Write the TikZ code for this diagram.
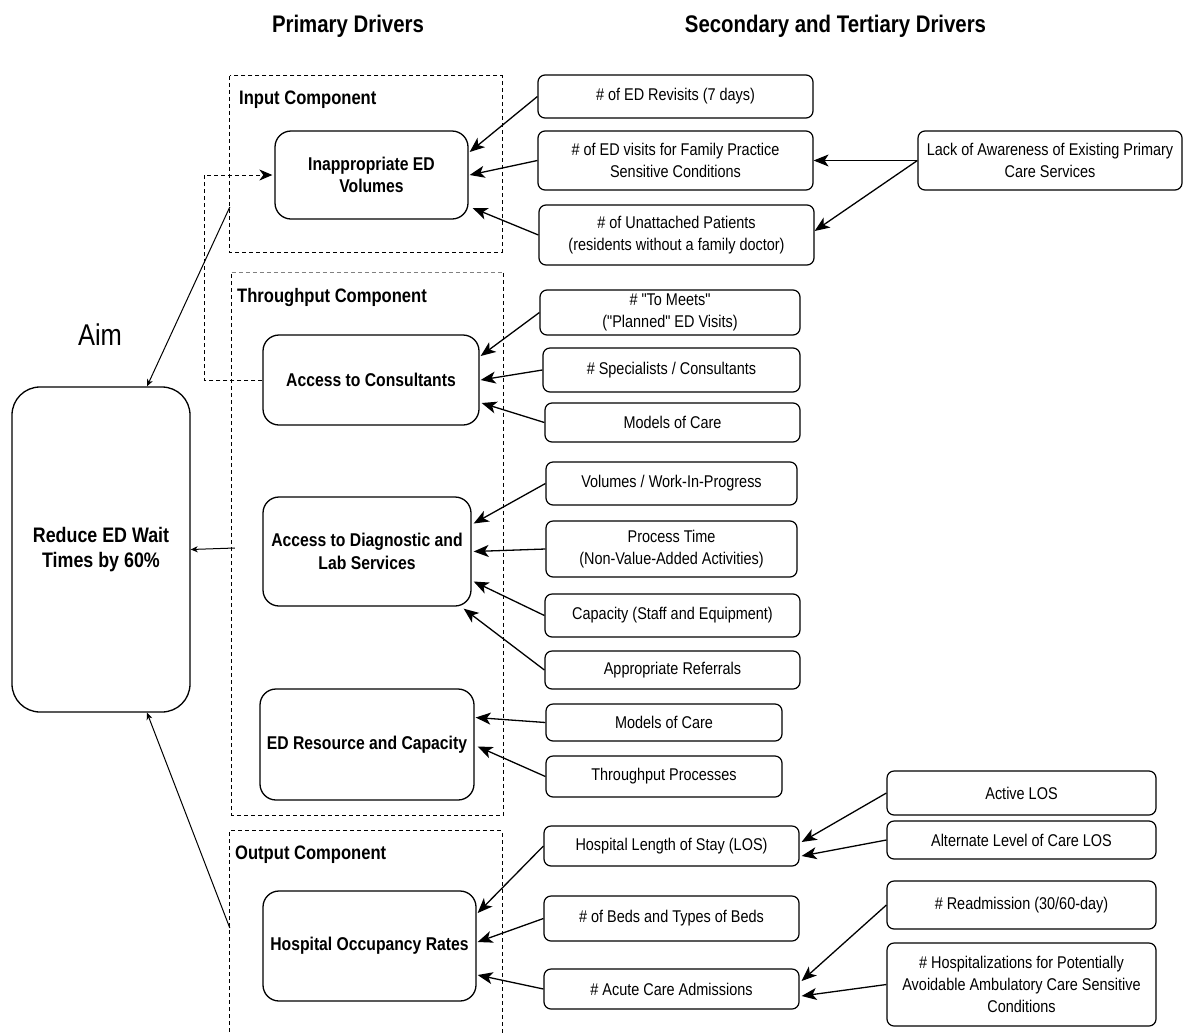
\documentclass[tikz,border=0pt]{standalone}
\usepackage{fontspec}
\setmainfont{Liberation Sans}[FakeStretch=0.85, Ligatures=TeXOff]
\usetikzlibrary{arrows.meta}

\begin{document}
\begin{tikzpicture}[x=1pt,y=-1pt,
  sbox/.style={draw, line width=1.2pt, rounded corners=7pt, fill=white,
    align=center, inner sep=0pt, font=\fontsize{17}{22}\selectfont},
  pbox/.style={draw, line width=1.3pt, rounded corners=16pt, fill=white,
    align=center, inner sep=0pt, font=\bfseries\fontsize{18.5}{22.5}\selectfont},
  groupline/.style={line width=1.1pt, dash pattern=on 4pt off 3pt},
  grouplabel/.style={anchor=base west, inner sep=0pt,
    font=\bfseries\fontsize{19.5}{23}\selectfont},
  heading/.style={anchor=base, inner sep=0pt, font=\bfseries\fontsize{24}{28}\selectfont},
  link/.style={line width=1.3pt, -{Stealth[length=15pt,width=12pt,inset=4pt]}},
  aimlink/.style={line width=1pt, -{Stealth[length=7pt,width=6pt,inset=2pt]}},
  feedback/.style={line width=0.9pt, dash pattern=on 4pt off 3pt,
    -{Stealth[length=13pt,width=11pt,inset=4pt]}},
]
\useasboundingbox (0,0) rectangle (1183,1034);
\fill[white] (0,0) rectangle (1183,1034);

% headings
\node[heading] (hprim) at (348,32) {Primary Drivers};
\node[heading] (hsec) at (835.5,32) {Secondary and Tertiary Drivers};
\node[anchor=base, inner sep=0pt, font=\fontsize{30}{34}\selectfont] (aimlabel) at (100,345) {Aim};

% component groups
\node[minimum width=272pt, minimum height=176pt, inner sep=0pt] (input) at (366,164) {};
\draw[groupline] (input.north west) rectangle (input.south east);
\node[minimum width=271pt, minimum height=542pt, inner sep=0pt] (thru) at (367.5,544) {};
\draw[groupline, gray] (thru.north west) -- (thru.north east);
\draw[groupline] (thru.north east) -- (thru.south east) -- (thru.south west) -- (thru.north west);
\node[minimum width=272pt, minimum height=208pt, inner sep=0pt] (output) at (366,935) {};
\draw[groupline] (output.south west) -- (output.north west) -- (output.north east) -- (output.south east);

\node[grouplabel] (linput) at (239,104) {Input Component};
\node[grouplabel] (lthru) at (237,302) {Throughput Component};
\node[grouplabel] (loutput) at (235,859) {Output Component};

% aim
\node[draw, line width=1.3pt, rounded corners=28pt, align=center, inner sep=0pt,
  minimum width=178pt, minimum height=325pt,
  font=\bfseries\fontsize{21}{25}\selectfont] (aim) at (101,549.5)
  {Reduce ED Wait\\Times by 60\%};

% primary drivers
\node[pbox, minimum width=193pt, minimum height=88pt] (inapp) at (371.5,175) {Inappropriate ED\\Volumes};
\node[pbox, minimum width=216pt, minimum height=90pt] (cons) at (371,380) {Access to Consultants};
\node[pbox, minimum width=208pt, minimum height=109pt] (diag) at (367,551.5) {Access to Diagnostic and\\Lab Services};
\node[pbox, minimum width=214pt, minimum height=111pt] (edrc) at (367,744.5) {ED Resource and Capacity};
\node[pbox, minimum width=213pt, minimum height=110pt] (occ) at (369.5,946) {Hospital Occupancy Rates};

% secondary drivers
\node[sbox, minimum width=275pt, minimum height=43pt] (rev) at (675.5,96.5) {\# of ED Revisits (7 days)};
\node[sbox, minimum width=275pt, minimum height=59pt] (fam) at (675.5,160.5) {\# of ED visits for Family Practice\\Sensitive Conditions};
\node[sbox, minimum width=275pt, minimum height=60pt] (unat) at (676.5,235) {\# of Unattached Patients\\(residents without a family doctor)};
\node[sbox, minimum width=260pt, minimum height=45pt] (meets) at (670,312.5) {\# "To Meets"\\("Planned" ED Visits)};
\node[sbox, minimum width=257pt, minimum height=44pt] (spec) at (671.5,370) {\# Specialists / Consultants};
\node[sbox, minimum width=255pt, minimum height=39pt] (mocA) at (672.5,422.5) {Models of Care};
\node[sbox, minimum width=251pt, minimum height=43pt] (vol) at (671.5,483.5) {Volumes / Work-In-Progress};
\node[sbox, minimum width=251pt, minimum height=56pt] (proc) at (671.5,549) {Process Time\\(Non-Value-Added Activities)};
\node[sbox, minimum width=255pt, minimum height=43pt] (capy) at (672.5,615.5) {Capacity (Staff and Equipment)};
\node[sbox, minimum width=255pt, minimum height=38pt] (refs) at (672.5,670) {Appropriate Referrals};
\node[sbox, minimum width=236pt, minimum height=37pt] (mocB) at (664,722.5) {Models of Care};
\node[sbox, minimum width=236pt, minimum height=41pt] (tpp) at (664,776.5) {Throughput Processes};
\node[sbox, minimum width=255pt, minimum height=40pt] (los) at (671.5,846) {Hospital Length of Stay (LOS)};
\node[sbox, minimum width=255pt, minimum height=45pt] (beds) at (671.5,918.5) {\# of Beds and Types of Beds};
\node[sbox, minimum width=255pt, minimum height=40pt] (acute) at (671.5,989) {\# Acute Care Admissions};

% tertiary drivers
\node[sbox, minimum width=264pt, minimum height=59pt] (lack) at (1050,160.5) {Lack of Awareness of Existing Primary\\Care Services};
\node[sbox, minimum width=269pt, minimum height=44pt] (active) at (1021.5,793) {Active LOS};
\node[sbox, minimum width=269pt, minimum height=38pt] (alc) at (1021.5,840) {Alternate Level of Care LOS};
\node[sbox, minimum width=269pt, minimum height=48pt] (readm) at (1021.5,905) {\# Readmission (30/60-day)};
\node[sbox, minimum width=269pt, minimum height=83pt] (hosp) at (1021.5,984.5) {\# Hospitalizations for Potentially\\Avoidable Ambulatory Care Sensitive\\Conditions};

% secondary -> primary
\draw[link] (rev.west) -- ([xshift=1pt,yshift=23pt]inapp.east);
\draw[link] (fam.west) -- ([xshift=1pt]inapp.east);
\draw[link] (unat.west) -- ([xshift=4pt,yshift=-33pt]inapp.east);
\draw[link] (meets.west) -- ([xshift=1pt,yshift=24pt]cons.east);
\draw[link] (spec.west) -- ([xshift=1pt]cons.east);
\draw[link] (mocA.west) -- ([xshift=2pt,yshift=-23pt]cons.east);
\draw[link] (vol.west) -- ([xshift=2pt,yshift=28pt]diag.east);
\draw[link] (proc.west) -- ([xshift=2pt]diag.east);
\draw[link] (capy.west) -- ([xshift=2pt,yshift=-30pt]diag.east);
\draw[link] (refs.west) -- ([xshift=-8pt,yshift=-2pt]diag.south east);
\draw[link] (mocB.west) -- ([xshift=1pt,yshift=27pt]edrc.east);
\draw[link] (tpp.west) -- ([xshift=3pt,yshift=-2pt]edrc.east);
\draw[link] (los.west) -- ([xshift=1pt,yshift=33pt]occ.east);
\draw[link] (beds.west) -- ([xshift=1pt,yshift=4pt]occ.east);
\draw[link] (acute.west) -- ([xshift=1pt,yshift=-29pt]occ.east);

% tertiary -> secondary
\draw[link] (lack.west) -- (fam.east);
\draw[link] (lack.west) -- ([yshift=4pt]unat.east);
\draw[link] (active.west) -- ([xshift=2pt,yshift=4pt]los.east);
\draw[link] (alc.west) -- ([xshift=2pt,yshift=-10pt]los.east);
\draw[link] (readm.west) -- ([xshift=2pt,yshift=8pt]acute.east);
\draw[link] (hosp.west) -- ([xshift=2pt,yshift=-7pt]acute.east);

% components -> aim
\draw[aimlink] ([yshift=-43pt]input.west) -- ([xshift=46pt]aim.north);
\draw[aimlink] ([xshift=3pt,yshift=-4pt]thru.west) -- (aim.east);
\draw[aimlink] ([yshift=7pt]output.west) -- ([xshift=46pt]aim.south);

% consultants feed back into ED volumes
\draw[feedback] (cons.west) -- ++(-58,0) |- ([xshift=-2pt]inapp.west);
\end{tikzpicture}
\end{document}
